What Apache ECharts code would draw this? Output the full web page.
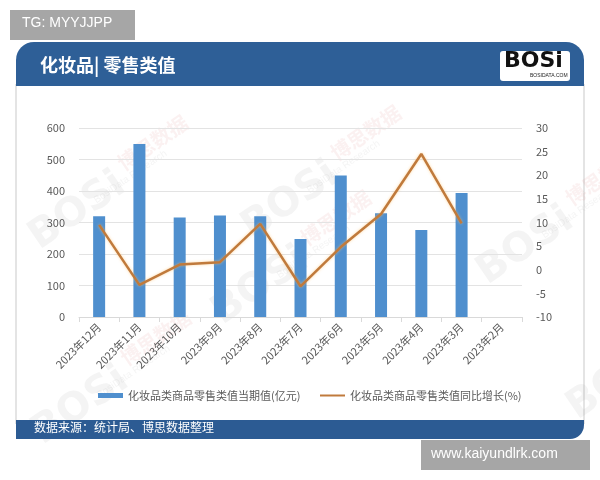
<!DOCTYPE html>
<html><head><meta charset="utf-8">
<script src="https://cdn.jsdelivr.net/npm/echarts@6/dist/echarts.min.js"></script>
<style>html,body{margin:0;padding:0;background:#fff}#c{width:600px;height:480px}</style>
</head><body><div id="c"></div>
<script>
const categories = ['2023年12月','2023年11月','2023年10月','2023年9月','2023年8月','2023年7月','2023年6月','2023年5月','2023年4月','2023年3月','2023年2月'];
const retailValue = [320, 549, 316, 322, 320, 248, 449, 329, 276, 394, null];
const yoyGrowth = [9.5, -3.2, 1.1, 1.6, 9.7, -3.5, 4.8, 11.8, 24.5, 9.8, null];
const leftTicks = {min: 0, max: 600, interval: 100};
const rightTicks = {min: -10, max: 30, interval: 5};
const barName = '化妆品类商品零售类值当期值(亿元)';
const lineName = '化妆品类商品零售类值同比增长(%)';
const titleText = '化妆品| 零售类值';
const sourceText = '数据来源：统计局、博思数据整理';
const tagText = 'TG: MYYJJPP';
const siteText = 'www.kaiyundlrk.com';
const markText = 'BOSi';
const markCn = '博思数据';
const markEn = 'BosiData Research';

const chart = echarts.init(document.getElementById('c'), null, {renderer: 'canvas'});
const font = '"Noto Sans CJK SC", "Microsoft YaHei", sans-serif';
const wm = [];
const rot = 0.6;
[[22, 225], [205, 300], [235, 215], [470, 260], [25, 420], [560, 395]].forEach(function (p) {
  wm.push({type: 'text', x: p[0], y: p[1], rotation: rot, silent: true, z: -1,
    style: {text: markText, fill: 'rgba(150,150,150,0.10)', font: 'bold 40px "DejaVu Sans", sans-serif'}});
  wm.push({type: 'text', x: p[0] + 92, y: p[1] - 68, rotation: rot, silent: true, z: -1,
    style: {text: markCn, fill: 'rgba(220,120,120,0.10)', font: 'bold 20px ' + font}});
  wm.push({type: 'text', x: p[0] + 70, y: p[1] - 28, rotation: rot, silent: true, z: -1,
    style: {text: markEn, fill: 'rgba(150,150,150,0.10)', font: '10px sans-serif'}});
});
chart.setOption({
  backgroundColor: '#fff',
  animation: false,
  textStyle: {fontFamily: font},
  graphic: [
    {type: 'rect', shape: {x: 16, y: 84, width: 568, height: 340}, style: {fill: '#fff', stroke: '#c9c9c9', lineWidth: 1}, z: -10}
  ].concat(wm).concat([
    {type: 'rect', shape: {x: 16, y: 42, width: 568, height: 44, r: [18, 18, 0, 0]}, style: {fill: '#2e5f97'}, z: 5},
    {type: 'text', left: 40, top: 56, z: 6, style: {text: titleText, fill: '#fff', font: 'bold 18px ' + font}},
    {type: 'rect', shape: {x: 500, y: 51, width: 70, height: 30, r: 3}, z: 6, style: {fill: '#fff'}},
    {type: 'text', left: 504, top: 50, z: 7, style: {text: 'BOSi', fill: '#111', font: 'bold 22px "DejaVu Sans", sans-serif'}},
    {type: 'text', left: 530, top: 73, z: 7, style: {text: 'BOSIDATA.COM', fill: '#222', font: '5px sans-serif'}},
    {type: 'rect', shape: {x: 16, y: 420, width: 568, height: 19, r: [0, 0, 14, 0]}, style: {fill: '#2c5b93'}, z: 5},
    {type: 'text', left: 34, top: 421, z: 6, style: {text: sourceText, fill: '#fff', font: '12px ' + font}},
    {type: 'rect', shape: {x: 10, y: 10, width: 125, height: 30}, z: 6, style: {fill: '#a6a6a6'}},
    {type: 'text', left: 22, top: 16, z: 7, style: {text: tagText, fill: '#fff', font: '14px "Liberation Sans", Arial, sans-serif'}},
    {type: 'rect', shape: {x: 421, y: 440, width: 169, height: 30}, z: 6, style: {fill: '#a6a6a6'}},
    {type: 'text', left: 431, top: 447, z: 7, style: {text: siteText, fill: '#fff', font: '14px "Liberation Sans", Arial, sans-serif'}}
  ]),
  legend: [
    {left: 93, top: 385, itemWidth: 25, itemHeight: 5, itemGap: 4,
     textStyle: {color: '#595959', fontSize: 11},
     data: [{name: barName, icon: 'rect'}]},
    {left: 315, top: 385, itemWidth: 25, itemHeight: 2, itemGap: 4,
     textStyle: {color: '#595959', fontSize: 11},
     data: [{name: lineName, icon: 'rect'}]}
  ],
  grid: {left: 79, right: 78, top: 128, bottom: 163},
  xAxis: {
    type: 'category', data: categories,
    axisLine: {lineStyle: {color: '#d9d9d9'}},
    axisTick: {show: true, lineStyle: {color: '#d9d9d9'}},
    axisLabel: {rotate: 45, color: '#595959', fontSize: 11, interval: 0, margin: 8}
  },
  yAxis: [
    {type: 'value', min: leftTicks.min, max: leftTicks.max, interval: leftTicks.interval,
     axisLabel: {color: '#595959', fontSize: 11, margin: 14},
     splitLine: {lineStyle: {color: '#e3e3e3'}}, axisLine: {show: false}, axisTick: {show: false}},
    {type: 'value', min: rightTicks.min, max: rightTicks.max, interval: rightTicks.interval,
     axisLabel: {color: '#595959', fontSize: 11, margin: 14},
     splitLine: {show: false}, axisLine: {show: false}, axisTick: {show: false}}
  ],
  series: [
    {name: barName, type: 'bar', data: retailValue, barWidth: 12, itemStyle: {color: '#4f8fce'}},
    {name: lineName, type: 'line', yAxisIndex: 1, data: yoyGrowth, symbol: 'none',
     lineStyle: {color: '#c07a3c', width: 2.5, shadowColor: 'rgba(255,190,100,0.6)', shadowBlur: 3},
     itemStyle: {color: '#c07a3c'}}
  ]
});
</script></body></html>
